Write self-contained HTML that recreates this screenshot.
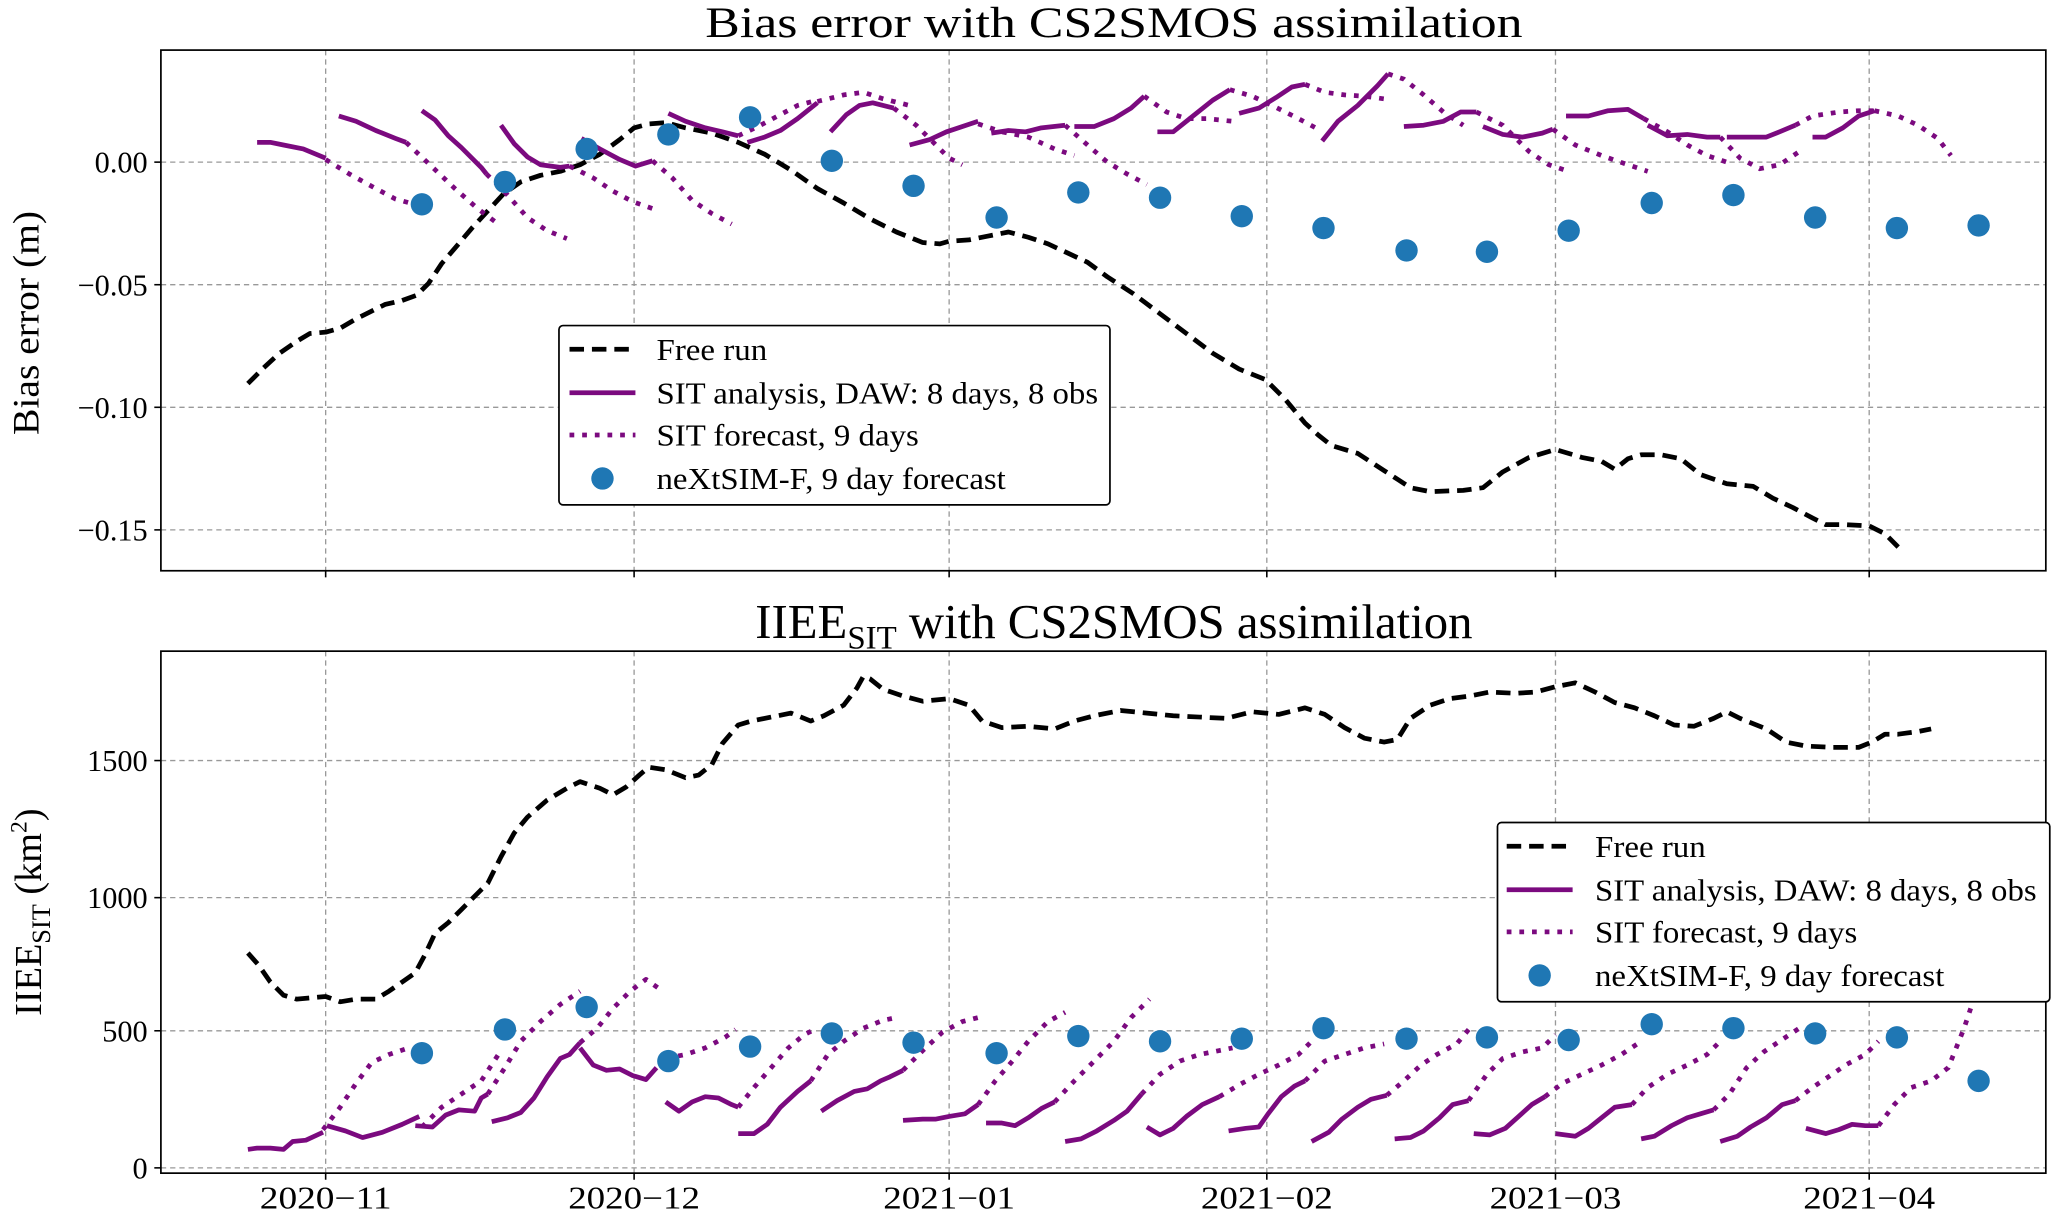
<!DOCTYPE html>
<html><head><meta charset="utf-8"><style>
html,body{margin:0;padding:0;background:#fff;}
svg{display:block;}
text{font-family:"Liberation Serif","DejaVu Serif",serif;fill:#000;}
</style></head><body>
<svg width="2067" height="1214" viewBox="0 0 1568 921" xmlns="http://www.w3.org/2000/svg">
<rect width="1568" height="921" fill="#fff"/>
<!-- ===== TOP PANEL ===== -->
<text x="845" y="28" font-size="33" text-anchor="middle" textLength="620" lengthAdjust="spacingAndGlyphs">Bias error with CS2SMOS assimilation</text>
<g stroke="#999" stroke-width="1" stroke-dasharray="4,3" fill="none">
<line x1="122" x2="1552" y1="123" y2="123"/><line x1="122" x2="1552" y1="216" y2="216"/>
<line x1="122" x2="1552" y1="309" y2="309"/><line x1="122" x2="1552" y1="402" y2="402"/>
<line x1="247" x2="247" y1="38" y2="433"/><line x1="481" x2="481" y1="38" y2="433"/>
<line x1="720" x2="720" y1="38" y2="433"/><line x1="961" x2="961" y1="38" y2="433"/>
<line x1="1180" x2="1180" y1="38" y2="433"/><line x1="1418" x2="1418" y1="38" y2="433"/>
</g>
<g stroke="#000" stroke-width="1.2">
<line x1="117" x2="122" y1="123" y2="123"/><line x1="117" x2="122" y1="216" y2="216"/>
<line x1="117" x2="122" y1="309" y2="309"/><line x1="117" x2="122" y1="402" y2="402"/>
<line x1="247" x2="247" y1="433" y2="438"/><line x1="481" x2="481" y1="433" y2="438"/>
<line x1="720" x2="720" y1="433" y2="438"/><line x1="961" x2="961" y1="433" y2="438"/>
<line x1="1180" x2="1180" y1="433" y2="438"/><line x1="1418" x2="1418" y1="433" y2="438"/>
</g>
<g font-size="23" text-anchor="end">
<text x="112" y="131">0.00</text><text x="112" y="224">−0.05</text>
<text x="112" y="317">−0.10</text><text x="112" y="410">−0.15</text>
</g>
<text transform="translate(29,245) rotate(-90)" font-size="28" text-anchor="middle" textLength="170" lengthAdjust="spacingAndGlyphs">Bias error (m)</text>

<g fill="none" stroke-linejoin="round">
<polyline stroke="#000" stroke-width="3.6" stroke-dasharray="11,6" points="188,291 200,279 212,268 225,259 235,253 247,252 258,249 270,242 280,237 292,231 305,228 316,224 325,215 335,200 347,186 358,173 370,160 382,147 395,138 410,133 425,130 440,125 455,117 470,106 481,97 492,94 505,93 520,97 540,101 560,108 580,117 600,129 620,143 640,154 660,166 680,176 700,184 713,185 720,183 735,182 750,179 765,176 780,180 795,185 810,192 825,199 840,210 860,223 880,238 900,253 920,268 940,280 960,288 975,303 990,321 1000,330 1010,338 1030,344 1050,357 1070,370 1085,373 1110,372 1125,370 1140,358 1160,347 1180,341 1200,347 1215,350 1225,356 1235,348 1245,345 1260,345 1275,348 1290,360 1310,367 1330,369 1345,378 1360,385 1375,393 1385,398 1400,398 1418,399 1430,405 1440,415"/>
<g stroke="#7b0a7f" stroke-width="3.6">
<polyline points="195,108 205,108 215,110 230,113 247,120"/>
<polyline points="257,88 270,92 285,99 300,105 308,108"/>
<polyline points="320,84 330,91 340,103 350,112 365,127 369,132"/>
<polyline points="380,95 390,109 400,119 410,125 425,127 432,126"/>
<polyline points="441,105 455,113 470,121 482,126 495,122"/>
<polyline points="507,86 520,92 535,97 548,100 560,103"/>
<polyline points="567,108 580,104 592,99 605,90 620,78"/>
<polyline points="630,100 642,87 652,80 662,78 678,82"/>
<polyline points="690,110 705,106 718,100 742,92"/>
<polyline points="752,101 765,99 778,100 790,97 808,95"/>
<polyline points="815,96 830,96 845,90 858,82 868,73"/>
<polyline points="878,100 890,100 905,88 920,76 933,68"/>
<polyline points="940,86 955,82 968,74 980,66 990,64"/>
<polyline points="1003,107 1015,92 1030,80 1045,65 1053,56"/>
<polyline points="1065,96 1080,95 1095,92 1108,85 1120,85"/>
<polyline points="1125,96 1140,102 1155,104 1170,101 1178,98"/>
<polyline points="1188,88 1205,88 1220,84 1235,83 1247,90"/>
<polyline points="1250,95 1265,103 1280,102 1295,104 1305,104"/>
<polyline points="1310,104 1325,104 1340,104 1350,100 1362,95"/>
<polyline points="1375,104 1385,104 1398,97 1410,88 1422,84"/>
</g>
<g stroke="#7b0a7f" stroke-width="3.6" stroke-dasharray="3.6,6">
<polyline points="247,121 265,132 285,143 300,151 318,156"/>
<polyline points="308,108 325,124 345,143 362,158 378,170"/>
<polyline points="369,132 385,148 400,165 415,175 430,181"/>
<polyline points="432,126 450,135 465,145 480,153 500,160"/>
<polyline points="495,122 510,135 525,152 540,162 555,170"/>
<polyline points="560,103 575,96 590,88 605,80 620,76"/>
<polyline points="620,77 640,72 655,70 670,75 690,80"/>
<polyline points="678,82 695,95 710,110 720,120 730,125"/>
<polyline points="742,94 760,100 780,104 800,113 815,118"/>
<polyline points="808,95 825,110 840,123 855,132 870,140"/>
<polyline points="868,73 885,85 900,90 915,90 935,92"/>
<polyline points="933,68 950,73 965,80 985,90 1000,98"/>
<polyline points="990,64 1005,70 1020,72 1035,73 1050,75"/>
<polyline points="1053,56 1065,60 1080,72 1095,85 1110,95"/>
<polyline points="1120,85 1140,95 1160,115 1175,125 1190,130"/>
<polyline points="1178,98 1195,110 1215,118 1235,125 1250,130"/>
<polyline points="1247,90 1265,100 1280,110 1295,118 1310,123"/>
<polyline points="1305,104 1320,120 1335,128 1350,125 1365,115"/>
<polyline points="1362,95 1375,88 1395,85 1410,84 1425,84"/>
<polyline points="1422,84 1440,88 1455,95 1470,105 1480,118"/>
</g>
</g>
<g fill="#1f77b4">
<circle cx="320" cy="155" r="8.5"/><circle cx="383" cy="138" r="8.5"/><circle cx="445" cy="113" r="8.5"/><circle cx="507" cy="102" r="8.5"/><circle cx="569" cy="89" r="8.5"/><circle cx="631" cy="122" r="8.5"/><circle cx="693" cy="141" r="8.5"/><circle cx="756" cy="165" r="8.5"/><circle cx="818" cy="146" r="8.5"/><circle cx="880" cy="150" r="8.5"/><circle cx="942" cy="164" r="8.5"/><circle cx="1004" cy="173" r="8.5"/><circle cx="1067" cy="190" r="8.5"/><circle cx="1128" cy="191" r="8.5"/><circle cx="1190" cy="175" r="8.5"/><circle cx="1253" cy="154" r="8.5"/><circle cx="1315" cy="148" r="8.5"/><circle cx="1377" cy="165" r="8.5"/><circle cx="1439" cy="173" r="8.5"/><circle cx="1501" cy="171" r="8.5"/>
</g>
<rect x="122" y="38" width="1430" height="395" fill="none" stroke="#000" stroke-width="1.3"/>
<!-- legend top -->
<rect x="424" y="247" width="418" height="136" rx="3" fill="#fff" stroke="#000" stroke-width="1.3"/>
<line x1="432" x2="482" y1="265" y2="265" stroke="#000" stroke-width="3.6" stroke-dasharray="11,6"/>
<line x1="432" x2="482" y1="298" y2="298" stroke="#7b0a7f" stroke-width="3.6"/>
<line x1="432" x2="482" y1="330" y2="330" stroke="#7b0a7f" stroke-width="3.6" stroke-dasharray="3.6,6"/>
<circle cx="457" cy="363" r="8.5" fill="#1f77b4"/>
<g font-size="23">
<text x="498" y="273" textLength="84" lengthAdjust="spacingAndGlyphs">Free run</text>
<text x="498" y="306" textLength="335" lengthAdjust="spacingAndGlyphs">SIT analysis, DAW: 8 days, 8 obs</text>
<text x="498" y="338" textLength="199" lengthAdjust="spacingAndGlyphs">SIT forecast, 9 days</text>
<text x="498" y="371" textLength="265" lengthAdjust="spacingAndGlyphs">neXtSIM-F, 9 day forecast</text>
</g>

<!-- ===== BOTTOM PANEL ===== -->
<text x="845" y="484" font-size="37" text-anchor="middle">IIEE<tspan font-size="25" dy="8">SIT</tspan><tspan dy="-8"> with CS2SMOS assimilation</tspan></text>
<g stroke="#999" stroke-width="1" stroke-dasharray="4,3" fill="none">
<line x1="122" x2="1552" y1="886" y2="886"/><line x1="122" x2="1552" y1="782" y2="782"/>
<line x1="122" x2="1552" y1="681" y2="681"/><line x1="122" x2="1552" y1="577" y2="577"/>
<line x1="247" x2="247" y1="494" y2="890"/><line x1="481" x2="481" y1="494" y2="890"/>
<line x1="720" x2="720" y1="494" y2="890"/><line x1="961" x2="961" y1="494" y2="890"/>
<line x1="1180" x2="1180" y1="494" y2="890"/><line x1="1418" x2="1418" y1="494" y2="890"/>
</g>
<g stroke="#000" stroke-width="1.2">
<line x1="117" x2="122" y1="886" y2="886"/><line x1="117" x2="122" y1="782" y2="782"/>
<line x1="117" x2="122" y1="681" y2="681"/><line x1="117" x2="122" y1="577" y2="577"/>
<line x1="247" x2="247" y1="890" y2="895"/><line x1="481" x2="481" y1="890" y2="895"/>
<line x1="720" x2="720" y1="890" y2="895"/><line x1="961" x2="961" y1="890" y2="895"/>
<line x1="1180" x2="1180" y1="890" y2="895"/><line x1="1418" x2="1418" y1="890" y2="895"/>
</g>
<g font-size="23" text-anchor="end">
<text x="112" y="894">0</text><text x="112" y="790">500</text>
<text x="112" y="689">1000</text><text x="112" y="585">1500</text>
</g>
<g font-size="24" text-anchor="middle">
<text x="247" y="917" textLength="100" lengthAdjust="spacingAndGlyphs">2020−11</text><text x="481" y="917" textLength="100" lengthAdjust="spacingAndGlyphs">2020−12</text>
<text x="720" y="917" textLength="100" lengthAdjust="spacingAndGlyphs">2021−01</text><text x="961" y="917" textLength="100" lengthAdjust="spacingAndGlyphs">2021−02</text>
<text x="1180" y="917" textLength="100" lengthAdjust="spacingAndGlyphs">2021−03</text><text x="1418" y="917" textLength="100" lengthAdjust="spacingAndGlyphs">2021−04</text>
</g>
<text transform="translate(31,692) rotate(-90)" font-size="29" text-anchor="middle">IIEE<tspan font-size="20" dy="7">SIT</tspan><tspan dy="-7"> (km</tspan><tspan font-size="18" dy="-11">2</tspan><tspan dy="11">)</tspan></text>

<g fill="none" stroke-linejoin="round">
<polyline stroke="#000" stroke-width="3.6" stroke-dasharray="11,6" points="188,723 196,732 205,745 215,755 225,758 247,756 258,760 270,758 285,758 295,752 305,745 315,738 322,725 330,708 340,700 350,690 360,680 370,670 380,650 390,632 400,620 415,607 430,598 440,593 455,598 465,603 475,597 485,588 492,582 505,584 520,590 530,588 540,580 548,564 560,550 570,547 585,544 600,541 615,547 625,543 640,535 650,522 655,513 660,515 670,523 685,528 700,532 720,530 735,535 745,547 760,552 780,551 800,553 815,547 830,543 850,539 870,541 890,543 910,544 930,545 950,540 970,542 990,537 1005,542 1020,552 1035,560 1050,563 1060,561 1070,545 1085,535 1100,530 1115,528 1130,525 1150,526 1165,525 1180,521 1195,518 1210,525 1225,533 1240,537 1255,543 1270,550 1285,551 1300,545 1310,540 1320,545 1340,553 1355,563 1370,566 1390,567 1410,567 1420,563 1430,557 1440,557 1455,555 1465,553"/>
<g stroke="#7b0a7f" stroke-width="3.6">
<polyline points="188,872 195,871 205,871 215,872 222,866 232,865 245,859"/>
<polyline points="248,854 262,858 275,863 290,859 305,853 318,847"/>
<polyline points="315,854 328,855 338,846 348,842 360,843 365,833 370,830"/>
<polyline points="373,851 385,848 395,844 405,833 415,817 425,803 432,800 440,791"/>
<polyline points="440,795 450,808 460,812 470,811 480,816 490,819 498,810"/>
<polyline points="505,836 515,843 525,836 535,832 545,833 555,838 560,840"/>
<polyline points="560,860 572,860 582,853 592,840 605,828 615,820"/>
<polyline points="623,843 635,835 648,828 658,826 668,820 675,817 685,812"/>
<polyline points="685,850 700,849 710,849 720,847 732,845 742,838"/>
<polyline points="748,852 760,852 770,854 780,848 790,841 800,836"/>
<polyline points="808,866 820,864 832,858 845,850 855,843 866,830"/>
<polyline points="870,855 880,861 890,856 900,847 912,838 925,832"/>
<polyline points="932,858 945,856 955,855 962,845 972,832 982,824 990,820"/>
<polyline points="995,866 1008,859 1018,849 1030,840 1040,834 1052,831"/>
<polyline points="1058,864 1070,863 1080,858 1092,848 1102,838 1114,835"/>
<polyline points="1118,860 1130,861 1142,856 1152,847 1162,838 1172,832"/>
<polyline points="1180,860 1195,862 1205,856 1215,848 1225,840 1238,838"/>
<polyline points="1245,864 1255,862 1268,854 1280,848 1290,845 1300,842"/>
<polyline points="1305,866 1318,862 1328,855 1340,848 1352,838 1362,835"/>
<polyline points="1370,856 1385,860 1395,857 1405,853 1415,854 1425,854"/>
</g>
<g stroke="#7b0a7f" stroke-width="3.6" stroke-dasharray="3.6,6">
<polyline points="245,857 258,840 270,822 282,806 295,800 310,795"/>
<polyline points="320,855 335,840 350,830 365,820 380,797"/>
<polyline points="370,830 383,810 395,790 410,775 425,762 440,752"/>
<polyline points="440,791 453,780 465,765 478,752 490,743 500,750"/>
<polyline points="505,803 520,800 535,795 550,787 558,781"/>
<polyline points="560,840 572,825 585,810 598,795 610,785 620,780"/>
<polyline points="615,820 628,800 640,790 655,780 670,774 680,772"/>
<polyline points="685,812 700,797 715,783 730,775 742,772"/>
<polyline points="742,838 755,820 768,805 780,790 795,775 808,768"/>
<polyline points="800,836 815,820 830,805 845,790 858,772 872,758"/>
<polyline points="866,830 880,815 895,805 910,800 925,797 935,795"/>
<polyline points="925,832 940,823 955,815 970,808 985,800 995,790"/>
<polyline points="990,820 1005,805 1020,800 1035,795 1050,792"/>
<polyline points="1052,831 1065,820 1078,808 1090,800 1105,792 1115,780"/>
<polyline points="1114,835 1128,815 1140,803 1155,798 1170,795 1180,785"/>
<polyline points="1172,832 1185,822 1200,815 1215,808 1230,800 1245,790"/>
<polyline points="1238,838 1250,825 1265,815 1280,808 1295,800 1305,790"/>
<polyline points="1300,842 1312,830 1325,810 1338,798 1350,790 1365,780"/>
<polyline points="1362,835 1375,825 1390,815 1400,808 1415,800 1425,790"/>
<polyline points="1425,854 1437,838 1450,825 1465,820 1478,810 1490,780 1495,765"/>
</g>
</g>
<g fill="#1f77b4">
<circle cx="320" cy="799" r="8.5"/><circle cx="383" cy="781" r="8.5"/><circle cx="445" cy="764" r="8.5"/><circle cx="507" cy="805" r="8.5"/><circle cx="569" cy="794" r="8.5"/><circle cx="631" cy="784" r="8.5"/><circle cx="693" cy="791" r="8.5"/><circle cx="756" cy="799" r="8.5"/><circle cx="818" cy="786" r="8.5"/><circle cx="880" cy="790" r="8.5"/><circle cx="942" cy="788" r="8.5"/><circle cx="1004" cy="780" r="8.5"/><circle cx="1067" cy="788" r="8.5"/><circle cx="1128" cy="787" r="8.5"/><circle cx="1190" cy="789" r="8.5"/><circle cx="1253" cy="777" r="8.5"/><circle cx="1315" cy="780" r="8.5"/><circle cx="1377" cy="784" r="8.5"/><circle cx="1439" cy="787" r="8.5"/><circle cx="1501" cy="820" r="8.5"/>
</g>
<rect x="122" y="494" width="1430" height="396" fill="none" stroke="#000" stroke-width="1.3"/>
<!-- legend bottom -->
<rect x="1136" y="624" width="419" height="136" rx="3" fill="#fff" stroke="#000" stroke-width="1.3"/>
<line x1="1143" x2="1193" y1="642" y2="642" stroke="#000" stroke-width="3.6" stroke-dasharray="11,6"/>
<line x1="1143" x2="1193" y1="675" y2="675" stroke="#7b0a7f" stroke-width="3.6"/>
<line x1="1143" x2="1193" y1="707" y2="707" stroke="#7b0a7f" stroke-width="3.6" stroke-dasharray="3.6,6"/>
<circle cx="1168" cy="740" r="8.5" fill="#1f77b4"/>
<g font-size="23">
<text x="1210" y="650" textLength="84" lengthAdjust="spacingAndGlyphs">Free run</text>
<text x="1210" y="683" textLength="335" lengthAdjust="spacingAndGlyphs">SIT analysis, DAW: 8 days, 8 obs</text>
<text x="1210" y="715" textLength="199" lengthAdjust="spacingAndGlyphs">SIT forecast, 9 days</text>
<text x="1210" y="748" textLength="265" lengthAdjust="spacingAndGlyphs">neXtSIM-F, 9 day forecast</text>
</g>
</svg>
</body></html>
